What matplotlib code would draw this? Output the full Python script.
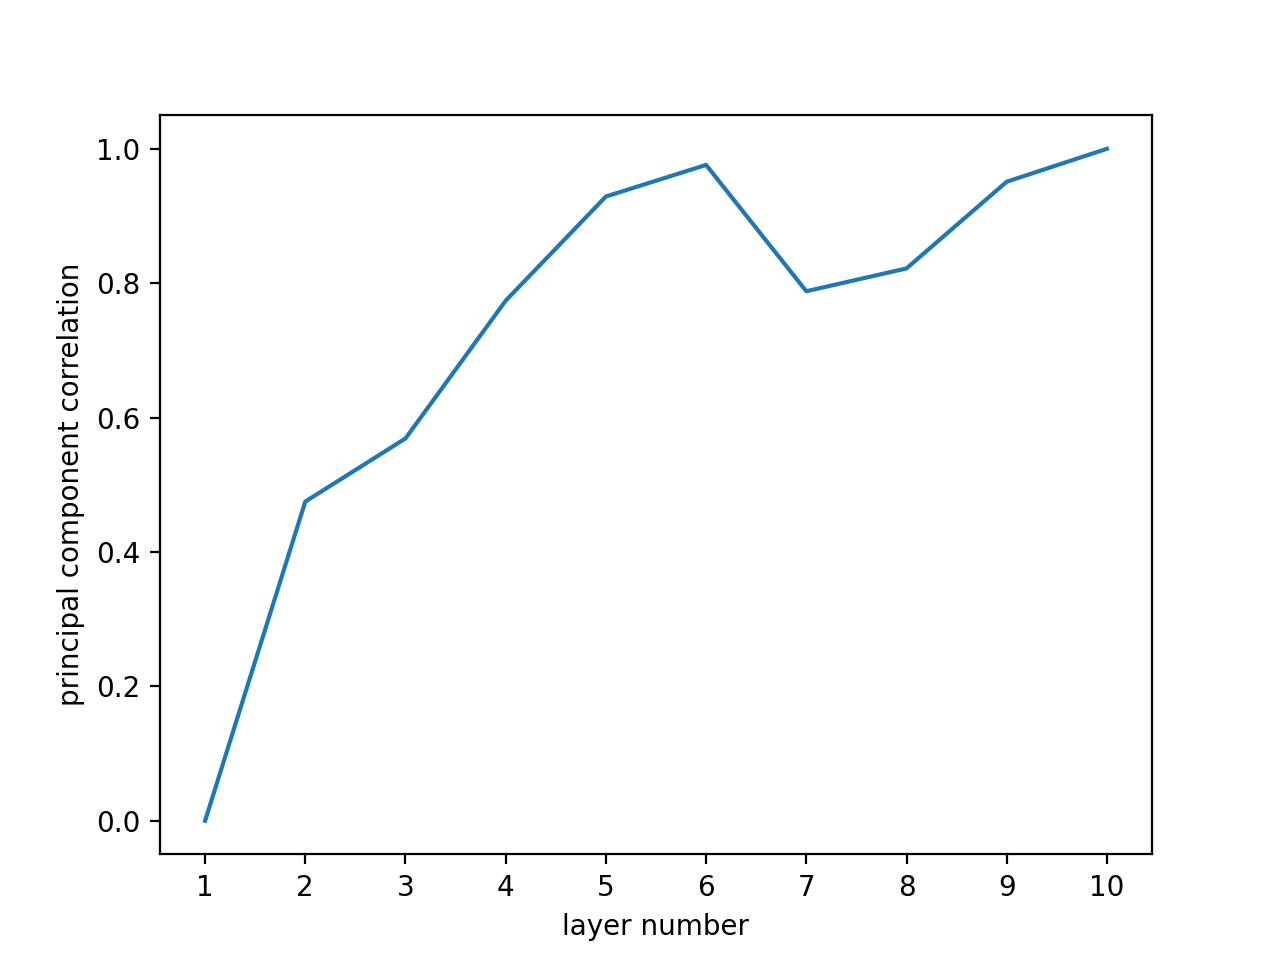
import matplotlib
matplotlib.use("Agg")
import matplotlib.pyplot as plt

# layer index and correlation values
layers = [1, 2, 3, 4, 5, 6, 7, 8, 9, 10]
correlation = [0.0, 0.475, 0.569, 0.774, 0.929, 0.976, 0.788, 0.822, 0.951, 1.0]

fig = plt.figure(figsize=(6.4, 4.8), dpi=200)
plt.plot(layers, correlation)
plt.xticks(layers)
plt.xlabel("layer number")
plt.ylabel("principal component correlation")
plt.savefig("out.png")
